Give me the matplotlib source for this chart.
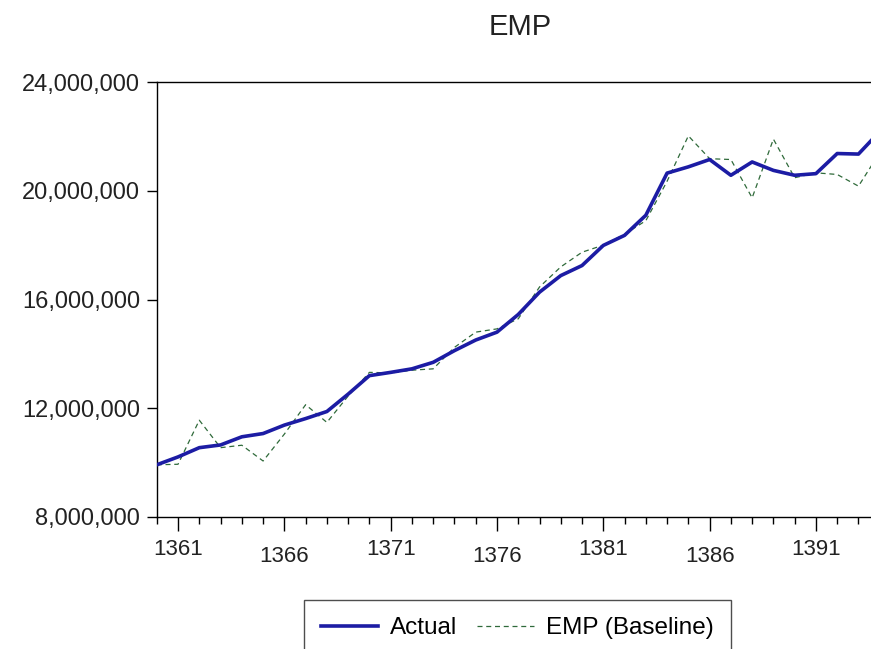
import numpy as np
import matplotlib
matplotlib.use('Agg')
import matplotlib.pyplot as plt
import matplotlib.transforms as mtransforms
from matplotlib.ticker import FuncFormatter, MultipleLocator

plt.rcParams['font.family'] = ['Liberation Sans', 'DejaVu Sans']

# values in millions
years = np.arange(1360, 1395)
actual = [9.92, 10.21, 10.55, 10.65, 10.95, 11.07, 11.38, 11.62, 11.88, 12.52,
          13.20, 13.32, 13.45, 13.69, 14.12, 14.51, 14.80, 15.45, 16.27, 16.88,
          17.25, 17.99, 18.36, 19.10, 20.65, 20.88, 21.15, 20.57, 21.06, 20.75,
          20.57, 20.63, 21.37, 21.35, 22.18]
baseline = [9.92, 9.94, 11.56, 10.55, 10.64, 10.06, 11.05, 12.13, 11.48, 12.45,
            13.32, 13.30, 13.40, 13.45, 14.24, 14.80, 14.92, 15.29, 16.46, 17.20,
            17.74, 18.00, 18.40, 18.90, 20.35, 22.02, 21.18, 21.15, 19.74, 21.90,
            20.48, 20.66, 20.60, 20.17, 21.40]
major_years = [1361, 1366, 1371, 1376, 1381, 1386, 1391]
y_ticks = [8e6, 12e6, 16e6, 20e6, 24e6]

fig = plt.figure(figsize=(8.71, 6.49), dpi=100)
ax = fig.add_axes([0.180, 0.2034, 0.82, 0.6702])

ax.plot(years, np.array(baseline) * 1e6, color='#2f6a3a', lw=0.9,
        dashes=(4, 3), label='EMP (Baseline)', zorder=2)
ax.plot(years, np.array(actual) * 1e6, color='#1c1ca4', lw=2.6,
        label='Actual', zorder=3)

ax.set_xlim(1360, 1393.59)
ax.set_ylim(8e6, 24e6)
ax.set_yticks(y_ticks)
ax.yaxis.set_major_formatter(FuncFormatter(lambda v, p: f'{int(v):,}'))
ax.set_xticks(major_years)
ax.set_xticklabels([str(y) for y in major_years])
ax.xaxis.set_minor_locator(MultipleLocator(1))

ax.tick_params(axis='y', which='major', direction='out', length=7, width=1,
               pad=5, labelsize=17, labelcolor='#222222')
ax.tick_params(axis='x', which='major', direction='out', length=10, width=1,
               pad=6, labelsize=16, labelcolor='#222222')
ax.tick_params(axis='x', which='minor', direction='out', length=5, width=1)
ax.spines['right'].set_visible(False)
for s in ['left', 'bottom', 'top']:
    ax.spines[s].set_linewidth(1)

# staggered x labels
offset = mtransforms.ScaledTranslation(0, -5 / 72, fig.dpi_scale_trans)
for i, lab in enumerate(ax.get_xticklabels()):
    if i % 2 == 1:
        lab.set_transform(lab.get_transform() + offset)

fig.text(0.597, 1 - 27 / 649, 'EMP', ha='center', va='center', fontsize=21,
         color='#222222')

handles, labels = ax.get_legend_handles_labels()
leg = fig.legend(handles[::-1], labels[::-1], loc='upper center',
                 bbox_to_anchor=(0.594, 1 - 600 / 649), ncol=2, fontsize=17.5,
                 frameon=True, fancybox=False, handlelength=2.35,
                 columnspacing=0.8, handletextpad=0.5, borderpad=0.7,
                 borderaxespad=0)
leg.get_frame().set_edgecolor('#222222')
leg.get_frame().set_linewidth(1)

fig.savefig('out.png', dpi=100)
